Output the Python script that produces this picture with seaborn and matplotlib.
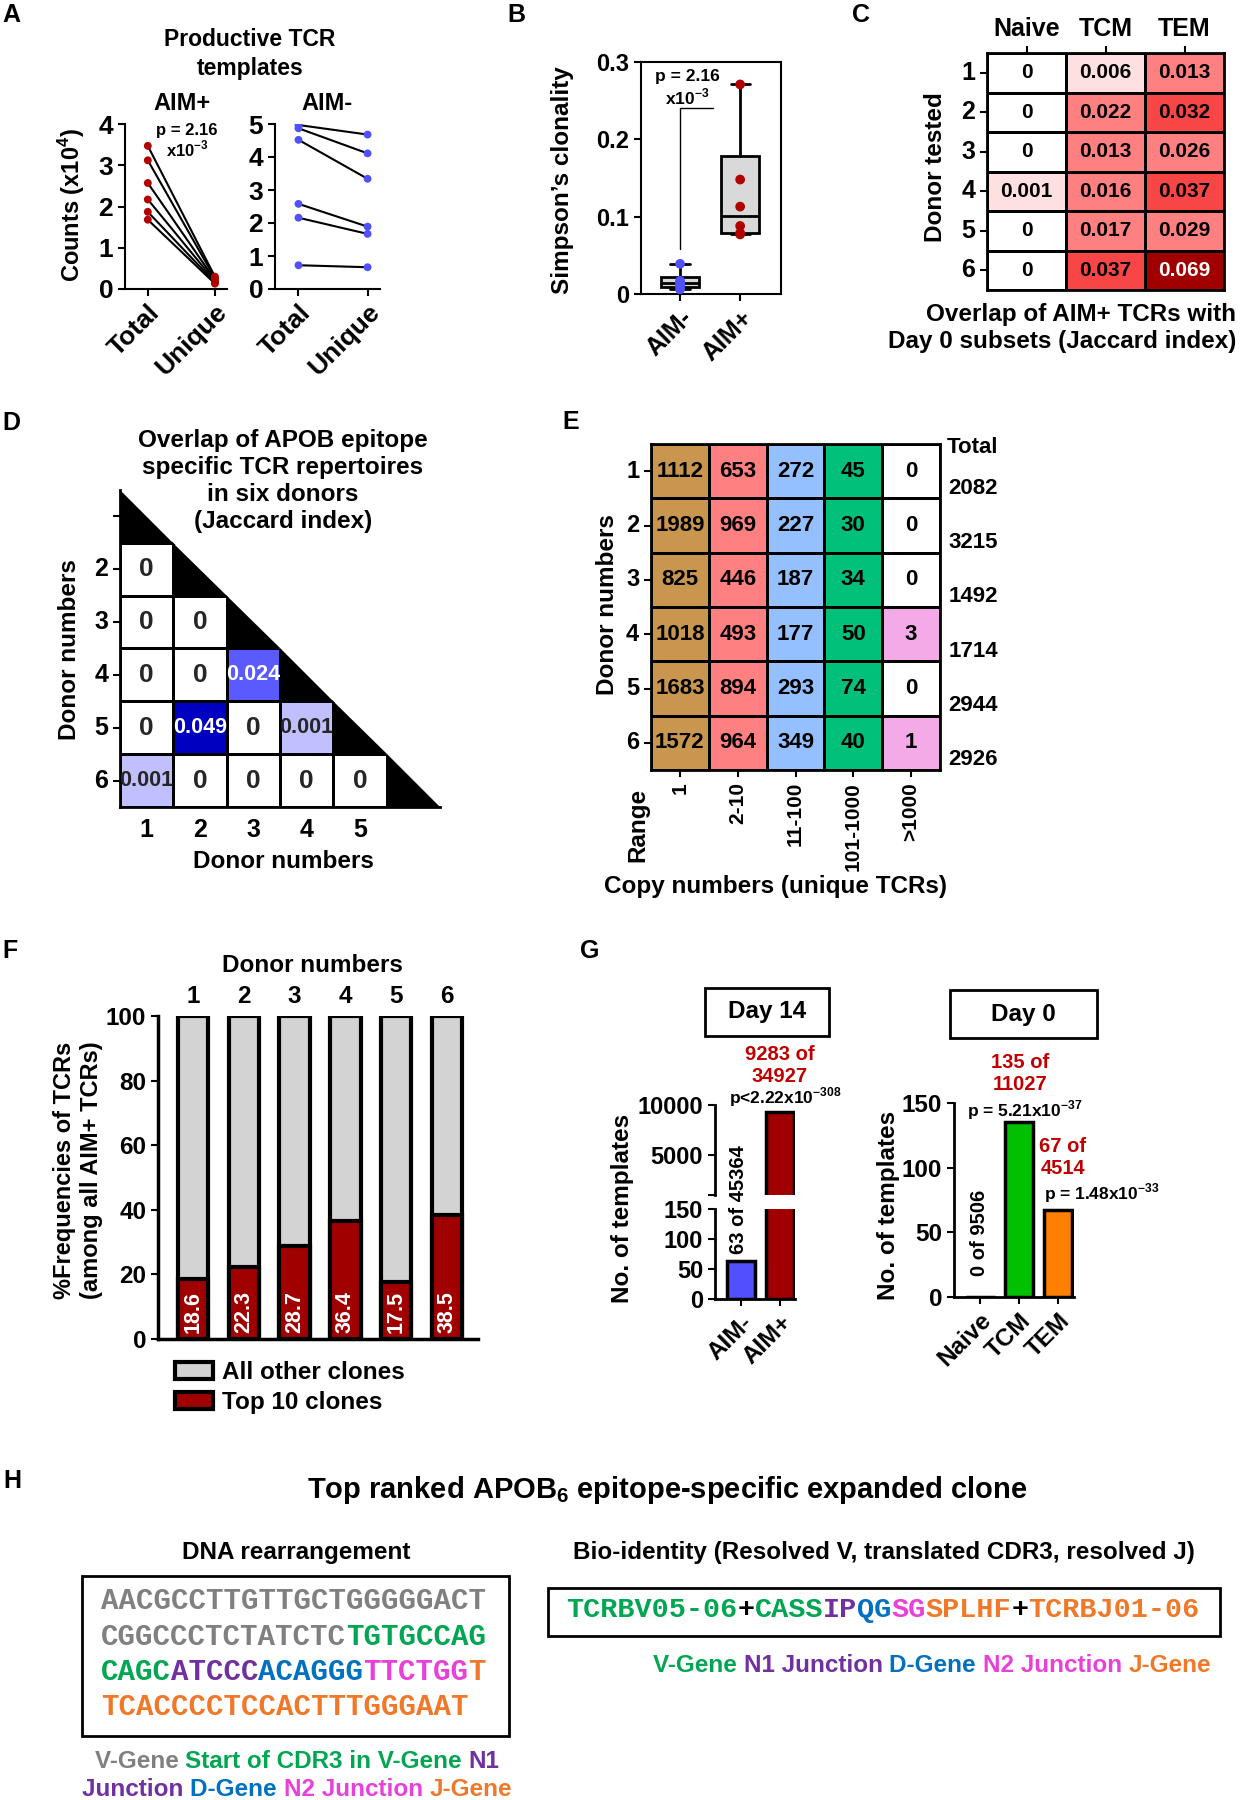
import numpy as np
import pandas as pd
import seaborn as sns
import matplotlib.pyplot as plt
from matplotlib.colors import ListedColormap, BoundaryNorm
from matplotlib.patches import Rectangle, Patch

# ---------------- data ----------------
donors = ['1', '2', '3', '4', '5', '6']

# A: productive TCR templates (x10^4)
a_pos_total = [3.47, 3.12, 2.57, 2.17, 1.87, 1.68]
a_pos_unique = [0.30, 0.26, 0.22, 0.19, 0.16, 0.13]
a_neg_total = [4.97, 4.87, 4.52, 2.58, 2.16, 0.72]
a_neg_unique = [4.68, 4.11, 3.34, 1.89, 1.67, 0.66]

# B: Simpson's clonality
simpson_neg = [0.006, 0.010, 0.013, 0.016, 0.017, 0.039]
simpson_pos = [0.077, 0.079, 0.088, 0.113, 0.148, 0.271]

# C: overlap with day 0 subsets
c_subsets = ['Naive', 'TCM', 'TEM']
c_naive = [0, 0, 0, 0.001, 0, 0]
c_tcm = [0.006, 0.022, 0.013, 0.016, 0.017, 0.037]
c_tem = [0.013, 0.032, 0.026, 0.037, 0.029, 0.069]

# D: overlap between donors (lower triangle rows)
d_donor2 = [0]
d_donor3 = [0, 0]
d_donor4 = [0, 0, 0.024]
d_donor5 = [0, 0.049, 0, 0.001]
d_donor6 = [0.001, 0, 0, 0, 0]

# E: copy number ranges
e_ranges = ['1', '2-10', '11-100', '101-1000', '>1000']
e_r1 = [1112, 1989, 825, 1018, 1683, 1572]
e_r2 = [653, 969, 446, 493, 894, 964]
e_r3 = [272, 227, 187, 177, 293, 349]
e_r4 = [45, 30, 34, 50, 74, 40]
e_r5 = [0, 0, 0, 3, 0, 1]
e_totals = [2082, 3215, 1492, 1714, 2944, 2926]

# F: top 10 clones
f_top10 = [18.6, 22.3, 28.7, 36.4, 17.5, 38.5]

# G: templates
g14_groups = ['AIM-', 'AIM+']
g14_counts = [63, 9283]
g0_groups = ['Naive', 'TCM', 'TEM']
g0_counts = [0, 135, 67]

# H: sequences
c_grey, c_green, c_purple = '#808080', '#00A651', '#7030A0'
c_blue, c_pink, c_orange = '#0070C0', '#E840D8', '#F07828'
dna_lines = [
    [('AACGCCTTGTTGCTGGGGGACT', c_grey)],
    [('CGGCCCTCTATCTC', c_grey), ('TGTGCCAG', c_green)],
    [('CAGC', c_green), ('ATCCC', c_purple), ('ACAGGG', c_blue),
     ('TTCTGG', c_pink), ('T', c_orange)],
    [('TCACCCCTCCACTTTGGGAAT', c_orange)],
]
bio_line = [('TCRBV05-06', c_green), ('+', 'black'), ('CASS', c_green),
            ('IP', c_purple), ('QG', c_blue), ('SG', c_pink),
            ('SPLHF', c_orange), ('+', 'black'), ('TCRBJ01-06', c_orange)]

# ---------------- style ----------------
sns.set_theme(style='ticks')
plt.rcParams.update({
    'font.family': ['Liberation Sans', 'DejaVu Sans'],
    'font.weight': 'bold',
    'axes.labelweight': 'bold',
    'axes.linewidth': 1.5,
    'axes.edgecolor': 'black',
    'text.color': 'black',
    'xtick.color': 'black',
    'ytick.color': 'black',
    'xtick.major.width': 1.5,
    'ytick.major.width': 1.5,
    'xtick.major.size': 5,
    'ytick.major.size': 5,
    'mathtext.fontset': 'custom',
    'mathtext.rm': 'Liberation Sans:bold',
    'mathtext.bf': 'Liberation Sans:bold',
})

W, H = 1242, 1800
fig = plt.figure(figsize=(W / 100, H / 100), dpi=100)


def add_ax(l, t, r, b):
    return fig.add_axes([l / W, 1 - b / H, (r - l) / W, (b - t) / H])


def ftext(x, y, s, **kw):
    kw.setdefault('ha', 'center')
    kw.setdefault('va', 'center')
    return fig.text(x / W, 1 - y / H, s, **kw)


for lab, x, y in [('A', 2, 3), ('B', 507, 3), ('C', 852, 3), ('D', 2, 411),
                  ('E', 562, 410), ('F', 2, 939), ('G', 580, 939), ('H', 3, 1469)]:
    ftext(x, y, lab, fontsize=18, ha='left', va='top')

# ---------------- A ----------------
def pair_plot(ax, total, unique, color, ymax):
    df = pd.DataFrame({'donor': donors * 2,
                       'cond': ['Total'] * 6 + ['Unique'] * 6,
                       'val': total + unique})
    sns.lineplot(data=df, x='cond', y='val', units='donor', estimator=None,
                 color='black', lw=1.5, ax=ax)
    sns.scatterplot(data=df, x='cond', y='val', color=color, s=32,
                    edgecolor='none', zorder=3, ax=ax)
    ax.set_ylim(0, ymax)
    ax.set_yticks(range(ymax + 1))
    ax.set_xlim(-0.34, 1.18)
    ax.set_xticks([0, 1])
    ax.set_xticklabels(['Total', 'Unique'], rotation=45, ha='right',
                       rotation_mode='anchor')
    ax.set_xlabel('')
    ax.set_ylabel('')
    ax.tick_params(labelsize=19)
    ax.tick_params(axis='x', pad=3)
    sns.despine(ax=ax)


axA1 = add_ax(125, 124, 227, 289)
pair_plot(axA1, a_pos_total, a_pos_unique, '#B00000', 4)
axA2 = add_ax(275, 124, 380, 289)
pair_plot(axA2, a_neg_total, a_neg_unique, '#5050FF', 5)
ftext(250, 54, 'Productive TCR\ntemplates', fontsize=16.5, linespacing=1.3)
ftext(182, 104, 'AIM+', fontsize=17)
ftext(327, 104, 'AIM-', fontsize=17)
ftext(187, 131, 'p = 2.16', fontsize=12)
ftext(187, 149, r'x10$^{\mathbf{-3}}$', fontsize=12)
ftext(72, 205, r'Counts (x10$^{\mathbf{4}}$)', fontsize=17, rotation=90)

# ---------------- B ----------------
axB = add_ax(641, 62, 781, 294)
stats = []
for vals in (simpson_neg, simpson_pos):
    q1, med, q3 = np.percentile(vals, [25, 50, 75], method='weibull')
    stats.append(dict(med=med, q1=q1, q3=q3, whislo=min(vals),
                      whishi=max(vals), fliers=[]))
axB.bxp(stats, positions=[0, 1], widths=0.64, patch_artist=True,
        showfliers=False,
        boxprops=dict(facecolor='#D9D9D9', edgecolor='black', lw=2),
        medianprops=dict(color='black', lw=2),
        whiskerprops=dict(color='black', lw=2),
        capprops=dict(color='black', lw=2))
b_df = pd.DataFrame({'grp': ['AIM-'] * 6 + ['AIM+'] * 6,
                     'val': simpson_neg + simpson_pos})
sns.stripplot(data=b_df, x='grp', y='val', hue='grp', order=['AIM-', 'AIM+'],
              palette={'AIM-': '#5050FF', 'AIM+': '#B00000'}, jitter=False,
              size=7, legend=False, zorder=4, ax=axB)
axB.set_xlim(-0.65, 1.68)
axB.set_ylim(0, 0.3)
axB.set_yticks([0, 0.1, 0.2, 0.3])
axB.set_yticklabels(['0', '0.1', '0.2', '0.3'])
axB.set_xticks([0, 1])
axB.set_xticklabels(['AIM-', 'AIM+'], rotation=45, ha='right',
                    rotation_mode='anchor')
axB.set_xlabel('')
axB.set_ylabel('')
axB.tick_params(labelsize=17)
axB.tick_params(axis='x', top=False, labelsize=18)
axB.plot([0, 0, 0.55], [0.058, 0.24, 0.24], color='black', lw=1)
ftext(687, 77, 'p = 2.16', fontsize=12.5)
ftext(687, 97, r'x10$^{\mathbf{-3}}$', fontsize=12.5)
ftext(563, 180, "Simpson’s clonality", fontsize=17.5, rotation=90)

# ---------------- C ----------------
axC = add_ax(987, 53, 1224, 290)
c_df = pd.DataFrame({'Naive': c_naive, 'TCM': c_tcm, 'TEM': c_tem}, index=donors)
c_lab = c_df.map(lambda v: '0' if v == 0 else f'{v:.3f}').values
c_cols = ['#FFFFFF', '#FFE0E0', '#FF8080', '#F84545', '#A00000']
c_bounds = [0, 0.0005, 0.01, 0.03, 0.05, 1]
sns.heatmap(c_df, cmap=ListedColormap(c_cols),
            norm=BoundaryNorm(c_bounds, len(c_cols)), annot=c_lab, fmt='',
            cbar=False, linewidths=2, linecolor='black',
            annot_kws=dict(size=15, weight='bold', color='black'), ax=axC)
for t in axC.texts:
    if t.get_text() == f'{max(c_tem):.3f}':
        t.set_color('white')
axC.xaxis.tick_top()
axC.tick_params(axis='both', length=5, width=1.5, labelsize=18)
axC.tick_params(axis='y', rotation=0)
axC.set_xlabel('')
axC.set_ylabel('')
for s in axC.spines.values():
    s.set_visible(True)
    s.set_linewidth(2)
ftext(935, 167, 'Donor tested', fontsize=17.5, rotation=90)
ftext(1236, 328, 'Overlap of AIM+ TCRs with\nDay 0 subsets (Jaccard index)',
      fontsize=17.5, ha='right', multialignment='right', linespacing=1.2)

# ---------------- D ----------------
axD = add_ax(120, 490, 440, 807)
d_mat = np.full((6, 6), np.nan)
for i, row in enumerate([d_donor2, d_donor3, d_donor4, d_donor5, d_donor6], start=1):
    d_mat[i, :len(row)] = row
d_lab = np.where(d_mat == 0, '0', np.char.mod('%.3f', np.nan_to_num(d_mat)))
d_cols = ['#FFFFFF', '#C0C0FF', '#5A5AFF', '#0000C0']
d_bounds = [0, 0.0005, 0.01, 0.035, 1]
sns.heatmap(d_mat, mask=np.isnan(d_mat), cmap=ListedColormap(d_cols),
            norm=BoundaryNorm(d_bounds, len(d_cols)), annot=d_lab, fmt='',
            cbar=False, linewidths=2, linecolor='black',
            annot_kws=dict(size=15.5, weight='bold'), ax=axD)
for t in axD.texts:
    if t.get_text() == '0':
        t.set_fontsize(19)
axD.fill([0, 6, 6], [0, 0, 6], color='white', lw=0, zorder=2)
for i in range(6):
    axD.fill([i, i, i + 1], [i, i + 1, i + 1], color='black', lw=0, zorder=3)
axD.set_xticks(np.arange(6) + 0.5)
axD.set_xticklabels(donors[:5] + [''])
axD.set_yticks(np.arange(6) + 0.5)
axD.set_yticklabels([''] + donors[1:], rotation=0)
axD.tick_params(axis='x', length=0, labelsize=18, pad=8)
axD.tick_params(axis='y', length=5, width=1.5, labelsize=18)
axD.spines['left'].set_visible(True)
axD.spines['bottom'].set_visible(True)
axD.spines['left'].set_linewidth(2)
axD.spines['bottom'].set_linewidth(2)
ftext(283, 481, 'Overlap of APOB epitope\nspecific TCR repertoires\nin six donors\n(Jaccard index)',
      fontsize=17.5, linespacing=1.22)
ftext(70, 650, 'Donor numbers', fontsize=17.5, rotation=90)
ftext(283, 862, 'Donor numbers', fontsize=17.5)

# ---------------- E ----------------
axE = add_ax(651, 444, 940, 770)
e_vals = np.array([e_r1, e_r2, e_r3, e_r4, e_r5]).T
e_idx = np.tile(np.arange(5), (6, 1))
e_idx[:, 4] = np.where(e_vals[:, 4] > 0, 4, 5)
e_cols = ['#C8964E', '#FF8080', '#95C0FF', '#00C07A', '#F5AAE8', '#FFFFFF']
sns.heatmap(e_idx, cmap=ListedColormap(e_cols), vmin=-0.5, vmax=5.5,
            annot=e_vals, fmt='d', cbar=False, linewidths=2, linecolor='black',
            annot_kws=dict(size=16, weight='bold', color='black'),
            xticklabels=e_ranges, yticklabels=donors, ax=axE)
axE.tick_params(axis='both', length=5, width=1.5, labelsize=17)
axE.tick_params(axis='x', rotation=90, labelsize=15)
axE.tick_params(axis='y', rotation=0)
for s in axE.spines.values():
    s.set_visible(True)
    s.set_linewidth(2)
axE.text(5.57, 0.07, 'Total', fontsize=16, ha='center', va='center', clip_on=False)
for i, tot in enumerate(e_totals):
    axE.text(5.57, i + 0.81, str(tot), fontsize=16, ha='center', va='center',
             clip_on=False)
ftext(607, 605, 'Donor numbers', fontsize=17.5, rotation=90)
ftext(638, 825, 'Range', fontsize=17.5, rotation=90)
ftext(775, 887, 'Copy numbers (unique TCRs)', fontsize=17.5)

# ---------------- F ----------------
axF = add_ax(158, 1016, 478, 1339)
f_other = [100 - v for v in f_top10]
f_full = [a + b for a, b in zip(f_top10, f_other)]
sns.barplot(x=donors, y=f_full, color='#D3D3D3', edgecolor='black',
            linewidth=3, width=0.6, saturation=1, ax=axF)
sns.barplot(x=donors, y=f_top10, color='#A00000', edgecolor='black',
            linewidth=3, width=0.6, saturation=1, ax=axF)
for i, v in enumerate(f_top10):
    axF.text(i, 2, f'{v:.1f}', rotation=90, color='white', fontsize=15.5,
             ha='center', va='bottom')
axF.set_xlim(-0.69, 5.61)
axF.set_ylim(0, 100)
axF.set_yticks(range(0, 101, 20))
axF.xaxis.tick_top()
axF.tick_params(axis='x', length=0, labelsize=17.5, pad=6)
axF.tick_params(axis='y', labelsize=17.5)
sns.despine(ax=axF, top=True, right=True)
axF.spines['left'].set_linewidth(2.5)
axF.spines['bottom'].set_linewidth(2.5)
ftext(312, 965, 'Donor numbers', fontsize=17.5)
ftext(78, 1170, '%Frequencies of TCRs\n(among all AIM+ TCRs)', fontsize=17,
      rotation=90, linespacing=1.25)
fig.legend(handles=[Patch(facecolor='#D3D3D3', edgecolor='black', lw=3,
                          label='All other clones'),
                    Patch(facecolor='#A00000', edgecolor='black', lw=3,
                          label='Top 10 clones')],
           loc='upper left', bbox_to_anchor=(175 / W, 1 - 1361 / H),
           frameon=False, fontsize=17.5, handlelength=1.55, handleheight=0.7,
           handletextpad=0.4, labelspacing=0.3, borderpad=0, borderaxespad=0)

# ---------------- G ----------------
g14_pal = {'AIM-': '#5050FF', 'AIM+': '#A00000'}
axGu = add_ax(715, 1105, 795, 1195)
axGl = add_ax(715, 1209, 795, 1299)
for ax in (axGu, axGl):
    sns.barplot(x=g14_groups, y=g14_counts, hue=g14_groups, palette=g14_pal,
                edgecolor='black', linewidth=2.5, width=0.72, saturation=1,
                legend=False, ax=ax)
    ax.set_xlim(-0.67, 1.38)
    ax.tick_params(axis='y', labelsize=17)
axGu.set_ylim(1000, 10000)
axGu.set_yticks([1000, 5000, 10000])
axGu.set_yticklabels(['', '5000', '10000'])
axGu.set_xticks([])
sns.despine(ax=axGu, bottom=True)
axGl.set_ylim(0, 150)
axGl.set_yticks([0, 50, 100, 150])
axGl.set_xticks([0, 1])
axGl.set_xticklabels(g14_groups, rotation=45, ha='right', rotation_mode='anchor')
axGl.tick_params(axis='x', labelsize=17.5)
sns.despine(ax=axGl)

axG0 = add_ax(954, 1103, 1074, 1297)
sns.barplot(x=g0_groups, y=g0_counts, hue=g0_groups,
            palette={'Naive': '#FFFFFF', 'TCM': '#00C000', 'TEM': '#FF8000'},
            edgecolor='black', linewidth=2.5, width=0.74, saturation=1,
            legend=False, ax=axG0)
axG0.set_xlim(-0.67, 2.41)
axG0.set_ylim(0, 150)
axG0.set_yticks([0, 50, 100, 150])
axG0.set_xticks([0, 1, 2])
axG0.set_xticklabels(g0_groups, rotation=45, ha='right', rotation_mode='anchor')
axG0.tick_params(labelsize=17.5)
sns.despine(ax=axG0)
for ax in (axGu, axGl, axG0):
    ax.set_xlabel('')
    ax.set_ylabel('')
    for s in ax.spines.values():
        s.set_linewidth(2)

for x0, y0, w0, h0, lab in [(705, 988, 124, 48, 'Day 14'), (950, 990, 147, 48, 'Day 0')]:
    fig.add_artist(Rectangle((x0 / W, 1 - (y0 + h0) / H), w0 / W, h0 / H,
                             transform=fig.transFigure, fill=False, lw=2,
                             edgecolor='black'))
    ftext(x0 + w0 / 2, y0 + h0 / 2, lab, fontsize=17.5)
red_txt = '#C00000'
ftext(780, 1054, '9283 of', fontsize=14.5, color=red_txt)
ftext(780, 1077, '34927', fontsize=14.5, color=red_txt)
ftext(729, 1097, r'p<2.22x10$^{\mathbf{-308}}$', fontsize=12.5, ha='left')
ftext(739, 1200, '63 of 45364', fontsize=14.5, rotation=90)
ftext(1020, 1062, '135 of', fontsize=14.5, color=red_txt)
ftext(1020, 1085, '11027', fontsize=14.5, color=red_txt)
ftext(967, 1110, r'p = 5.21x10$^{\mathbf{-37}}$', fontsize=12.5, ha='left')
ftext(1063, 1146, '67 of', fontsize=14.5, color=red_txt)
ftext(1063, 1169, '4514', fontsize=14.5, color=red_txt)
ftext(1044, 1193, r'p = 1.48x10$^{\mathbf{-33}}$', fontsize=12.5, ha='left')
ftext(980, 1233, '0 of 9506', fontsize=14.5, rotation=90)
ftext(623, 1208, 'No. of templates', fontsize=17.5, rotation=90)
ftext(889, 1205, 'No. of templates', fontsize=17.5, rotation=90)

# ---------------- H ----------------
renderer = fig.canvas.get_renderer()


def text_width(s, **kw):
    t = fig.text(0, 0, s, **kw)
    w = t.get_window_extent(renderer).width
    t.remove()
    return w


def colored_text(x, y, parts, ha='left', **kw):
    ref = text_width('|', **kw)
    full = ''.join(s for s, _ in parts)
    total = text_width(full + '|', **kw) - ref
    x0 = x - total / 2 if ha == 'center' else x
    prefix = ''
    for s, col in parts:
        off = text_width(prefix + '|', **kw) - ref if prefix else 0
        ftext(x0 + off, y, s, color=col, ha='left', **kw)
        prefix += s


ftext(667, 1490, r'Top ranked APOB$_{\mathbf{6}}$ epitope-specific expanded clone',
      fontsize=21)
ftext(296, 1553, 'DNA rearrangement', fontsize=17.5)
ftext(884, 1552, 'Bio-identity (Resolved V, translated CDR3, resolved J)', fontsize=17.5)
fig.add_artist(Rectangle((82 / W, 1 - 1736 / H), 427 / W, 160 / H,
                         transform=fig.transFigure, fill=False, lw=2, edgecolor='black'))
fig.add_artist(Rectangle((548 / W, 1 - 1636 / H), 672 / W, 48 / H,
                         transform=fig.transFigure, fill=False, lw=2, edgecolor='black'))
mono = dict(fontsize=21, family='Liberation Mono', fontweight='bold')
for yy, parts in zip([1601, 1637, 1672, 1707], dna_lines):
    colored_text(101, yy, parts, **mono)
colored_text(566, 1610, bio_line, fontsize=20.5, family='Liberation Mono',
             fontweight='bold')
colored_text(297, 1762, [('V-Gene ', c_grey), ('Start of CDR3 in V-Gene ', c_green),
                         ('N1', c_purple)], ha='center', fontsize=17.5)
colored_text(297, 1790, [('Junction ', c_purple), ('D-Gene ', c_blue),
                         ('N2 Junction ', c_pink), ('J-Gene', c_orange)],
             ha='center', fontsize=17.5)
colored_text(932, 1665, [('V-Gene ', c_green), ('N1 Junction ', c_purple),
                         ('D-Gene ', c_blue), ('N2 Junction ', c_pink),
                         ('J-Gene', c_orange)], ha='center', fontsize=17.5)

fig.savefig('out.png', dpi=100)
